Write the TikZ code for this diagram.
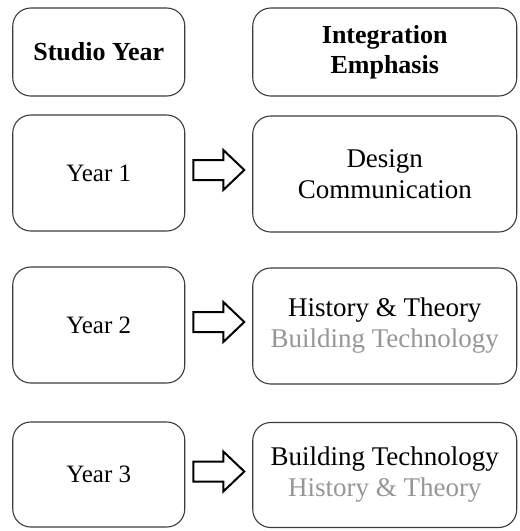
\documentclass[tikz,border=0pt]{standalone}
\usepackage{fontspec}
\setmainfont{Liberation Serif}
\usetikzlibrary{positioning,calc}
\definecolor{softgrey}{RGB}{150,150,150}
\definecolor{edgegrey}{RGB}{60,60,60}
\tikzset{
    yearbox/.style={draw=edgegrey, line width=1.1pt, rounded corners=18pt,
        minimum width=172pt, align=center, font=\fontsize{25}{30}\selectfont},
    focusbox/.style={draw=edgegrey, line width=1.1pt, rounded corners=18pt,
        minimum width=264pt, align=center, font=\fontsize{27}{31}\selectfont},
    blockarrow/.style={draw=black, line width=2pt, line join=miter}
}

\begin{document}
\begin{tikzpicture}[x=1pt, y=-1pt]
\useasboundingbox (0,0) rectangle (520,531);

% Headers
\node[yearbox, minimum height=88pt, font=\fontsize{26}{30}\selectfont] (studio) at (98.75,52) {\textbf{Studio Year}};
\node[focusbox, minimum height=88pt, font=\fontsize{26}{30}\selectfont] (emph) at (384.75,52) {\textbf{Integration}\\\textbf{Emphasis}};

% Years
\node[yearbox, minimum height=116pt] (year1) at (98.75,173) {Year 1};
\node[yearbox, minimum height=116pt] (year2) at (98.75,325) {Year 2};
\node[yearbox, minimum height=105pt] (year3) at (98.75,474.5) {Year 3};

% Emphasis per year
\node[focusbox, minimum height=116pt] (focus1) at (384.75,174) {Design\\Communication};
\node[focusbox, minimum height=116pt] (focus2) at (384.75,326) {History \& Theory\\\textcolor{softgrey}{Building Technology}};
\node[focusbox, minimum height=105pt] (focus3) at (384.75,475) {Building Technology\\\textcolor{softgrey}{History \& Theory}};

% Open arrows
\foreach \i in {1,2,3}
    \draw[blockarrow] ($(year\i.east)+(8,-3)$) ++(0,-10) -- ++(30,0) -- ++(0,-10)
        -- ++(21,20) -- ++(-21,20) -- ++(0,-10) -- ++(-30,0) -- cycle;
\end{tikzpicture}
\end{document}
